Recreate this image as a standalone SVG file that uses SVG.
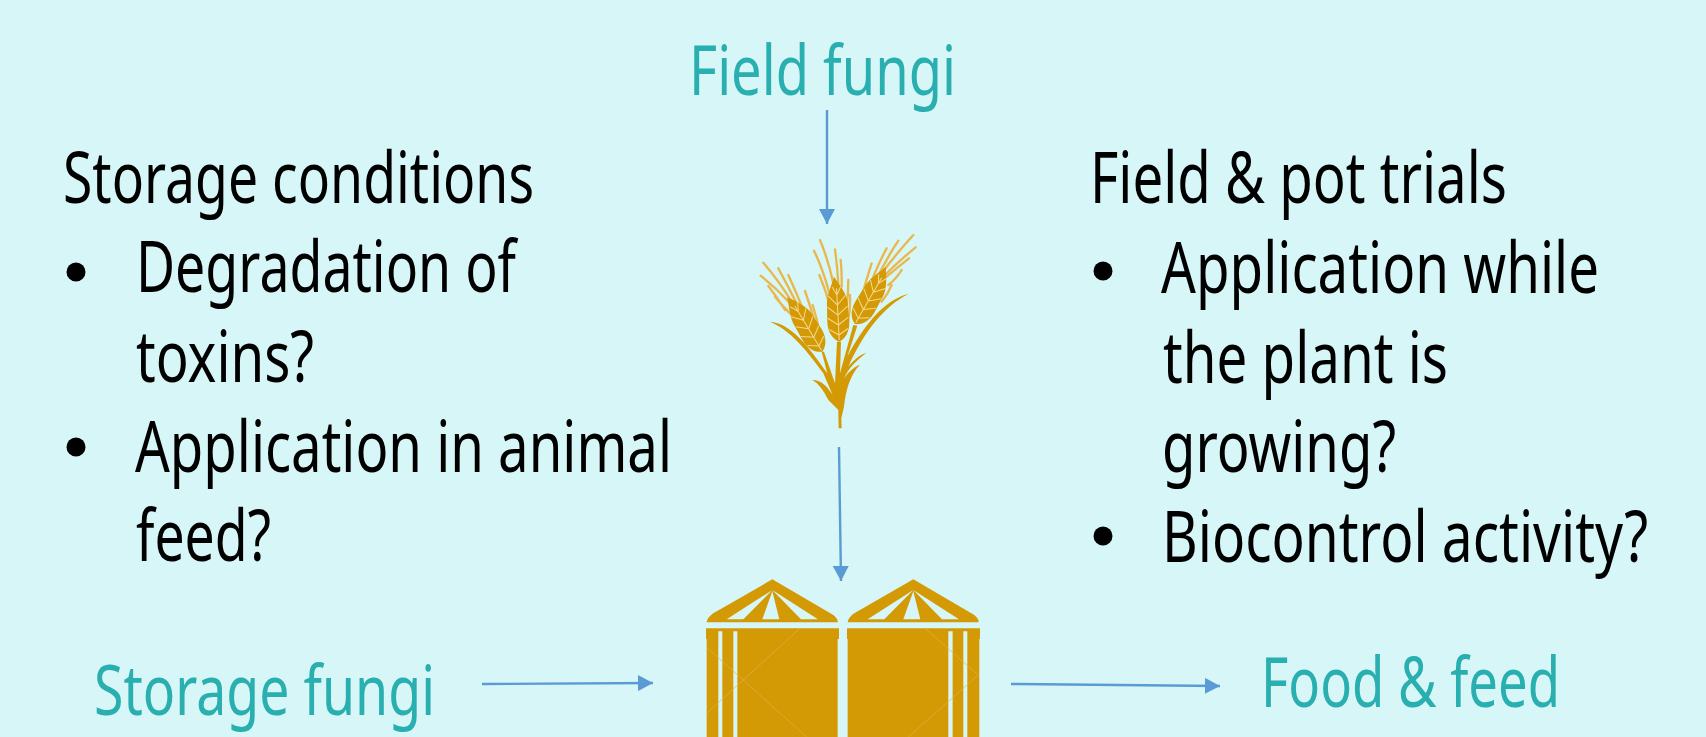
<svg xmlns="http://www.w3.org/2000/svg" width="1706" height="737" viewBox="0 0 1706 737">
<style>
text{font-family:"Noto Sans","Liberation Sans",sans-serif}
.b{font-size:71px;fill:#000}
.t{font-size:70px;fill:#2aafb0}
.c{stroke:#5b9bd5;stroke-width:2.4;fill:none;marker-end:url(#ah)}
.g{fill:#d39a05}
.o{fill:#d7f6f7}
.a{stroke:#e8b84e;stroke-width:7;fill:none;stroke-linecap:round}
.k{stroke:#f6d98f;stroke-width:3;fill:none}
</style>
<defs>
<marker id="ah" markerUnits="userSpaceOnUse" markerWidth="16" markerHeight="16" refX="15" refY="8" orient="auto"><path d="M0 0L15 8L0 16Z" fill="#5b9bd5"/></marker>
<g id="ear">
<path class="g" d="M0 0C-20 -8 -33 -30 -33 -60L-31 -120C-26 -150 -12 -175 -6 -195C6 -175 26 -150 31 -120L33 -60C33 -30 20 -8 0 0Z"/>
<path class="k" d="M0 -5L0 -160M0 -20L-28 -38M0 -20L28 -38M0 -50L-31 -72M0 -50L31 -72M0 -80L-30 -105M0 -80L30 -105M0 -110L-26 -138M0 -110L26 -138M0 -140L-13 -165M0 -140L13 -165"/>
</g>
<g id="silo">
<path class="g" d="M277 58L460 165Q475 178 473 187L80 187Q82 172 100 160Z"/>
<path class="o" d="M277 90L140 178L190 178ZM277 94L247 178L298 178ZM277 90L363 178L414 178Z"/>
</g>
</defs>
<rect width="1706" height="737" fill="#d7f6f7"/>
<g id="connectors">
<path class="c" d="M827 110L827 224"/>
<path class="c" d="M839 447L841 581"/>
<path class="c" d="M482 684L653 683"/>
<path class="c" d="M1011 684L1220 686"/>
</g>
<g id="field-fungi"><text class="t" x="689" y="95" textLength="267" lengthAdjust="spacingAndGlyphs">Field fungi</text></g>
<g id="storage-fungi"><text class="t" x="94" y="715" textLength="341" lengthAdjust="spacingAndGlyphs">Storage fungi</text></g>
<g id="food-feed"><text class="t" x="1261" y="707" textLength="299" lengthAdjust="spacingAndGlyphs">Food &amp; feed</text></g>
<g id="storage-conditions">
<text class="b" x="63" y="203" textLength="471" lengthAdjust="spacingAndGlyphs">Storage conditions</text>
<circle cx="76" cy="272" r="9.5"/>
<text class="b" x="136" y="292" textLength="380" lengthAdjust="spacingAndGlyphs">Degradation of</text>
<text class="b" x="136" y="382" textLength="178" lengthAdjust="spacingAndGlyphs">toxins?</text>
<circle cx="76" cy="447" r="9.5"/>
<text class="b" x="135" y="472" textLength="537" lengthAdjust="spacingAndGlyphs">Application in animal</text>
<text class="b" x="136" y="561" textLength="135" lengthAdjust="spacingAndGlyphs">feed?</text>
</g>
<g id="field-pot-trials">
<text class="b" x="1090" y="203" textLength="417" lengthAdjust="spacingAndGlyphs">Field &amp; pot trials</text>
<circle cx="1103" cy="271" r="9.5"/>
<text class="b" x="1161" y="293" textLength="438" lengthAdjust="spacingAndGlyphs">Application while</text>
<text class="b" x="1163" y="383" textLength="285" lengthAdjust="spacingAndGlyphs">the plant is</text>
<text class="b" x="1162" y="472" textLength="234" lengthAdjust="spacingAndGlyphs">growing?</text>
<circle cx="1103" cy="536" r="9.5"/>
<text class="b" x="1162" y="562" textLength="486" lengthAdjust="spacingAndGlyphs">Biocontrol activity?</text>
</g>
<g id="wheat" transform="translate(740 210) scale(.3333)">
<path class="a" d="M358 290Q375 220 395 160M385 240Q410 170 440 115M400 230Q430 160 475 92M425 190Q470 130 520 75M435 195Q480 150 527 112M440 200Q475 170 507 145M445 225Q470 205 485 180M425 275Q445 250 455 225"/>
<path class="a" d="M155 275Q115 210 70 158M175 290Q145 230 115 175M190 300Q170 250 145 195M225 340Q212 290 195 243M240 370Q232 330 218 285M150 280Q110 235 62 197M135 300Q110 260 85 228M150 310Q125 285 105 260"/>
<path class="a" d="M280 220Q265 150 240 90M268 250Q250 180 222 122M268 280Q255 235 238 195M295 220Q292 170 285 118M305 230Q306 190 302 150M320 290Q325 250 325 210M325 330Q332 290 330 255"/>
<use href="#ear" transform="translate(247 425) rotate(-31)"/>
<use href="#ear" transform="translate(298 395) rotate(-3)"/>
<use href="#ear" transform="translate(345 342) rotate(30)"/>
<path class="g" d="M90 335C150 340 200 400 262 490L245 425L252 425L285 520L291 395L303 395L300 490L340 345L352 347L322 440C370 350 430 270 505 252C430 290 370 370 325 470C345 445 365 432 380 428C350 450 325 475 312 505C330 480 345 470 360 464C330 495 318 540 312 590L304 625L305 655L296 655L295 600L265 570C250 540 235 520 217 510C245 510 262 530 278 555L250 490C200 420 150 360 90 335Z"/>
</g>
<g id="silos" transform="translate(680 560) scale(.3333)">
<use href="#silo"/>
<use href="#silo" transform="translate(423 0)"/>
<path class="g" d="M78 205H477V237H473V531H80V237H78Z"/>
<path class="g" d="M501 205H900V237H898V531H503V237H501Z"/>
<path class="o" d="M115 214H127V531H115ZM160 214H172V531H160ZM805 214H818V531H805ZM850 214H862V531H850Z"/>
<path d="M360 205L80 460M80 262L380 531M735 205L895 345L685 531" stroke="#e0b44a" stroke-width="2" fill="none"/>
</g>
</svg>
